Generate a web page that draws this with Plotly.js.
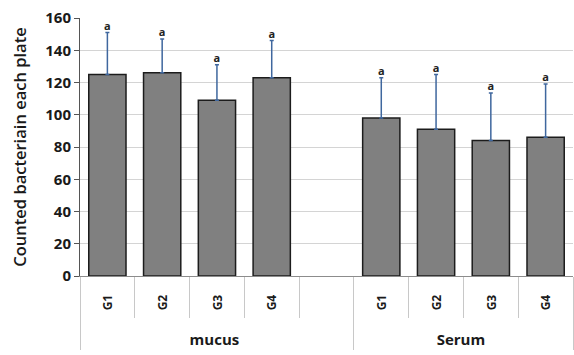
<!DOCTYPE html>
<html>
<head>
<meta charset="utf-8">
<script src="https://cdn.plot.ly/plotly-3.0.1.min.js"></script>
<style>
  html, body { margin: 0; padding: 0; background: #fff; }
  #chart { width: 574px; height: 355px; }
</style>
</head>
<body>
<div id="chart"></div>
<script>
// Sample groups (outer level) and treatment groups (inner level).
// The blank slot keeps a gap between the mucus and serum sets.
const groupLabels = ["mucus", "mucus", "mucus", "mucus", "mucus", "Serum", "Serum", "Serum", "Serum"];
const treatmentLabels = ["G1", "G2", "G3", "G4", " ", "G1", "G2", "G3", "G4"];

// Mean bacterial counts per plate and their standard deviations.
const meanCounts = [125, 126, 109, 123, null, 98, 91, 84, 86];
const stdDevs = [26, 21, 22, 23, null, 25, 34, 29.5, 33];

// Significance letters shown above each error bar.
const sigLetters = ["a", "a", "a", "a", "", "a", "a", "a", "a"];

const yTickValues = [0, 20, 40, 60, 80, 100, 120, 140, 160];

// Outer labels sit one (blank) line lower than the inner ones; both get their own type size.
const groupText = groupLabels.map(g => " <br><span style='font-size:15px'>" + g + "</span>");
const treatmentText = treatmentLabels.map(t => "<span style='font-size:12px'>" + t + "</span>");
const xCats = [groupText, treatmentText];
const letterY = meanCounts.map((m, i) => (m === null ? null : m + stdDevs[i]));

const barTrace = {
  type: "bar",
  x: xCats,
  y: meanCounts,
  marker: { color: "#808080", line: { color: "#1c1c1c", width: 1.5 } },
  error_y: {
    type: "data",
    symmetric: false,
    array: stdDevs,
    arrayminus: stdDevs.map(() => 0),
    color: "#3f679e",
    thickness: 1.5,
    width: 2
  },
  hoverinfo: "skip"
};

const letterTrace = {
  type: "scatter",
  mode: "text",
  x: xCats,
  y: letterY,
  text: sigLetters,
  textposition: "top center",
  textfont: { family: "Open Sans, Arial, sans-serif", size: 11, color: "#222", weight: "bold" },
  hoverinfo: "skip",
  cliponaxis: false
};

const layout = {
  width: 574,
  height: 355,
  margin: { l: 80, r: 1, t: 18, b: 79 },
  paper_bgcolor: "#ffffff",
  plot_bgcolor: "#ffffff",
  showlegend: false,
  bargap: 0.32,
  font: { family: "Open Sans, Arial, sans-serif", color: "#1a1a1a" },
  xaxis: {
    type: "multicategory",
    showdividers: true,
    dividercolor: "#c8c8c8",
    dividerwidth: 1,
    tickson: "boundaries",
    ticks: "outside",
    ticklen: 41,
    tickcolor: "#c8c8c8",
    tickwidth: 1,
    tickangle: -90,
    ticklabelstandoff: 12,
    tickfont: { size: 14.5, weight: "bold", color: "#1a1a1a" },
    showline: true,
    linecolor: "#8c8c8c",
    linewidth: 1,
    showgrid: false,
    fixedrange: true
  },
  yaxis: {
    range: [0, 160],
    tickvals: yTickValues,
    ticks: "outside",
    ticklen: 5,
    tickcolor: "#555",
    tickfont: { size: 15, weight: "bold", color: "#1a1a1a" },
    showline: true,
    linecolor: "#555",
    linewidth: 1,
    gridcolor: "#d4d4d4",
    gridwidth: 1,
    zeroline: false,
    title: {
      text: "Counted bacteriain each plate",
      font: { size: 16.5, weight: 600, color: "#1a1a1a" },
      standoff: 14
    },
    fixedrange: true
  }
};

Plotly.newPlot("chart", [barTrace, letterTrace], layout, { displayModeBar: false, staticPlot: true });
</script>
</body>
</html>
